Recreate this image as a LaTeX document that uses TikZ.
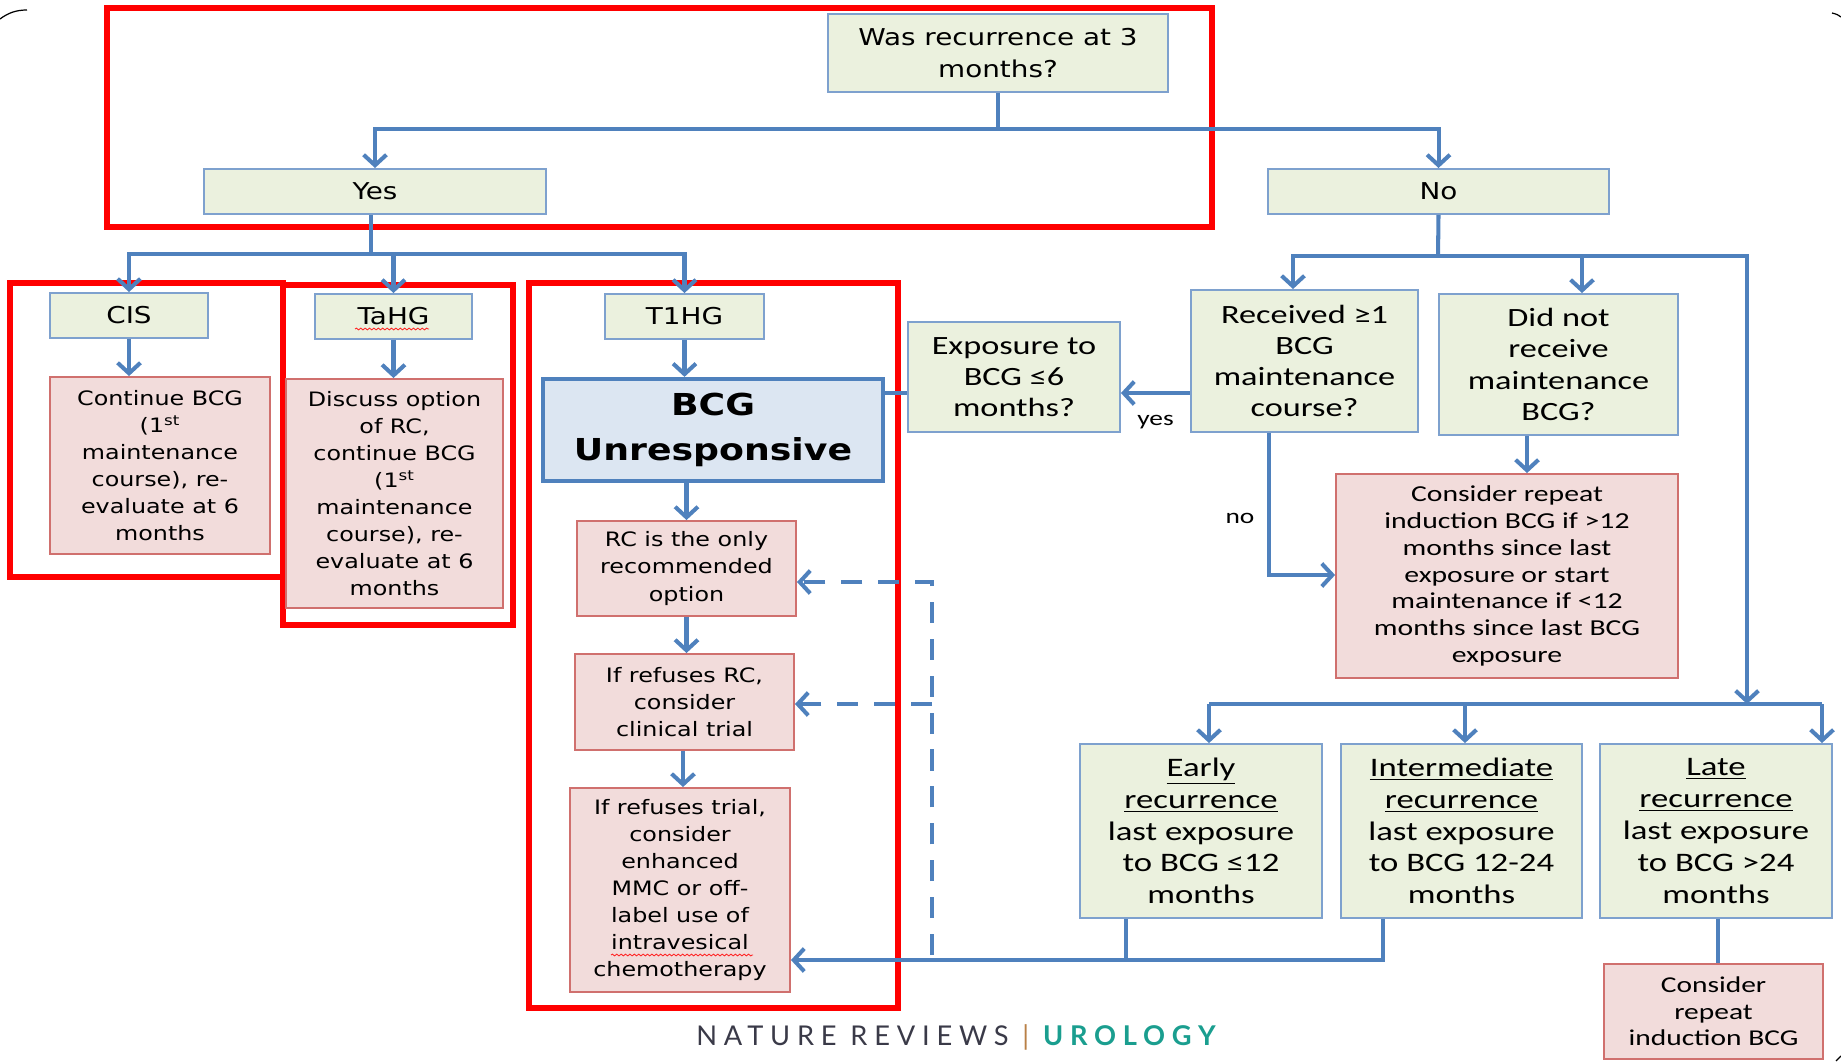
\documentclass[tikz,border=0pt]{standalone}
\usepackage{fontspec}
\newfontfamily\vfont[FakeStretch=1.2]{DejaVu Sans}
\newfontfamily\cfont[FakeStretch=1.3]{Carlito}
\newfontfamily\nrfont[LetterSpace=25]{Lato}
\usetikzlibrary{arrows.meta, decorations.pathmorphing}
\definecolor{lineblue}{HTML}{4F81BD}
\definecolor{greenfill}{HTML}{EBF1DE}
\definecolor{greenedge}{HTML}{7EA1CE}
\definecolor{pinkfill}{HTML}{F2DCDB}
\definecolor{pinkedge}{HTML}{D0706E}
\definecolor{bluefill}{HTML}{DCE6F2}
\definecolor{urologyteal}{HTML}{1A9E8F}
\definecolor{inkgray}{HTML}{3A3A48}

\begin{document}
\begin{tikzpicture}[x=0.02cm, y=-0.02cm,
  gbox/.style={draw=greenedge, fill=greenfill, line width=1.1pt, align=center, inner sep=0pt},
  pbox/.style={draw=pinkedge, fill=pinkfill, line width=1.1pt, align=center, inner sep=0pt},
  frame/.style={draw=red, line width=3.6pt},
  link/.style={draw=lineblue, line width=2.3pt},
  arr/.style={link, -{Straight Barb[length=6pt, width=13pt]}},
  darr/.style={arr, dash pattern=on 12pt off 9pt},
  vhead/.style={font={\vfont\fontsize{13.2}{18.7}\selectfont}},
  vtxt/.style={font={\vfont\fontsize{11.3}{15.4}\selectfont}},
  ctxt/.style={font={\cfont\fontsize{15}{17.8}\selectfont}},
  spell/.style={draw=red!85, line width=0.5pt, decorate, decoration={snake, amplitude=0.5pt, segment length=2.5pt}}]
\useasboundingbox (0,0) rectangle (1841,1061);
% slide corners
\draw[black, line width=0.7pt] (0,19) .. controls (8,13) and (16,10) .. (27,10);
\draw[black, line width=0.7pt] (1832,13) .. controls (1836,14) and (1839,15) .. (1841,17);
\draw[black, line width=0.7pt] (1836,1061) .. controls (1838,1059) and (1840,1057) .. (1841,1056);

% red frames
\draw[frame] (107,8) rectangle (1212,227);
\draw[frame] (10,283) rectangle (283,577);
\draw[frame] (283,285) rectangle (513,625);
\draw[frame] (529,283) rectangle (898,1008);

% left branch
\node[gbox, vhead, minimum width=6.8cm, minimum height=1.56cm] (q3) at (998,53) {Was recurrence at 3\\months?};
\node[gbox, vhead, minimum width=6.84cm, minimum height=0.9cm] (yes) at (375,191.5) {Yes};
\node[gbox, vhead, minimum width=6.82cm, minimum height=0.9cm] (no) at (1438.5,191.5) {No};
\node[gbox, vhead, minimum width=3.16cm, minimum height=0.9cm] (cis) at (129,315.5) {CIS};
\node[gbox, vhead, minimum width=3.14cm, minimum height=0.9cm] (tahg) at (393.5,316.5) {TaHG};
\node[gbox, vhead, minimum width=3.18cm, minimum height=0.9cm] (t1hg) at (684.5,316.5) {T1HG};
\node[pbox, vtxt, minimum width=4.4cm, minimum height=3.54cm] (cont) at (160,465.5)
  {Continue BCG\\(1\textsuperscript{st}\\maintenance\\course), re-\\evaluate at 6\\months};
\node[pbox, vtxt, minimum width=4.34cm, minimum height=4.58cm] (disc) at (394.5,493.5)
  {Discuss option\\of RC,\\continue BCG\\(1\textsuperscript{st}\\maintenance\\course), re-\\evaluate at 6\\months};
\node[draw=lineblue, fill=bluefill, line width=2.4pt, align=center, minimum width=6.8cm, minimum height=2.04cm,
  font={\vfont\bfseries\fontsize{17.2}{25.5}\selectfont}] (bcg) at (713,430) {BCG\\Unresponsive};
\node[pbox, vtxt, minimum width=4.38cm, minimum height=1.9cm] (rc) at (686.5,568.5) {RC is the only\\recommended\\option};
\node[pbox, vtxt, minimum width=4.38cm, minimum height=1.92cm] (refrc) at (684.5,702) {If refuses RC,\\consider\\clinical trial};
\node[pbox, vtxt, minimum width=4.4cm, minimum height=4.08cm] (reftr) at (680,890)
  {If refuses trial,\\consider\\enhanced\\MMC or off-\\label use of\\intravesical\\chemotherapy};

% right branch
\node[gbox, ctxt, minimum width=4.24cm, minimum height=2.2cm] (exp) at (1014,377) {Exposure to\\BCG ≤6\\months?};
\node[gbox, ctxt, minimum width=4.54cm, minimum height=2.84cm] (rec) at (1304.5,361) {Received ≥1\\BCG\\maintenance\\course?};
\node[gbox, ctxt, minimum width=4.78cm, minimum height=2.82cm] (dnr) at (1558.5,364.5) {Did not\\receive\\maintenance\\BCG?};
\node[pbox, font={\cfont\fontsize{13}{15.3}\selectfont}, minimum width=6.84cm, minimum height=4.08cm] (crib) at (1507,576)
  {Consider repeat\\induction BCG if >12\\months since last\\exposure or start\\maintenance if <12\\months since last BCG\\exposure};
\node[gbox, font={\cfont\fontsize{15.2}{18.1}\selectfont}, minimum width=4.84cm, minimum height=3.48cm] (early) at (1201,831)
  {\underline{Early}\\\underline{recurrence}\\last exposure\\to BCG ≤12\\months};
\node[gbox, font={\cfont\fontsize{15.2}{18.1}\selectfont}, minimum width=4.82cm, minimum height=3.48cm] (inter) at (1461.5,831)
  {\underline{Intermediate}\\\underline{recurrence}\\last exposure\\to BCG 12-24\\months};
\node[gbox, font={\cfont\fontsize{15.2}{18.1}\selectfont}, minimum width=4.64cm, minimum height=3.48cm] (late) at (1716,831)
  {\underline{Late}\\\underline{recurrence}\\last exposure\\to BCG >24\\months};
\node[pbox, font={\cfont\fontsize{12.9}{15.1}\selectfont}, minimum width=4.38cm, minimum height=1.9cm] (crs) at (1713.5,1011.5)
  {Consider\\repeat\\induction BCG};

% spell-check marks
\draw[spell] (355,329) -- (429,329);
\draw[spell] (611,955) -- (753,955);

% junctions
\coordinate (j1) at (998,129);
\coordinate (j2) at (371,254);
\coordinate (j3) at (1438,256);
\coordinate (recin) at (1293,256);
\coordinate (dnrin) at (1582,256);
\coordinate (lateln) at (1747,256);
\coordinate (rl) at (1209,704);
\coordinate (rm) at (1465,704);
\coordinate (rr) at (1822,704);
\coordinate (rj) at (1747,704);
\coordinate (ey) at (0,393);
\coordinate (nd) at (1269,575);
\coordinate (dc) at (1527,0);
\coordinate (lc) at (1718,0);
\coordinate (eb) at (1126,960);
\coordinate (ib) at (1383,960);
\coordinate (dbot) at (932,955);
\coordinate (dtop) at (932,582);
\coordinate (dmid) at (932,704);

% connectors
\draw[link] (q3.south) -- (j1);
\draw[arr] (j1) -| (yes.north);
\draw[arr] (j1) -| (no.north);
\draw[link] (yes.south -| j2) -- (j2);
\draw[arr] (j2) -| (cis.north);
\draw[arr] (j2) -| (tahg.north);
\draw[arr] (j2) -| (t1hg.north);
\draw[arr] (cis.south) -- (cis.south |- cont.north);
\draw[arr] (tahg.south) -- (tahg.south |- disc.north);
\draw[arr] (t1hg.south) -- (t1hg.south |- bcg.north);
\draw[arr] (bcg.south -| rc.north) -- (rc.north);
\draw[arr] (rc.south) -- (rc.south |- refrc.north);
\draw[arr] (refrc.south -| 683,0) -- (reftr.north -| 683,0);

\draw[link] (no.south) -- (j3);
\draw[arr] (j3) -- (recin) -- (recin |- rec.north);
\draw[arr] (j3) -- (dnrin) -- (dnrin |- dnr.north);
\draw[arr] (dnrin) -- (lateln) -- (rj);
\draw[arr] (rec.west |- ey) -- (exp.east |- ey) node[pos=0.5, below=8pt, font={\cfont\fontsize{12}{14}\selectfont}] {yes};
\draw[link] (exp.west |- ey) -- (bcg.east |- ey);
\draw[arr] (rec.south -| nd) -- (nd) -- (nd -| crib.west);
\node[font={\cfont\fontsize{12}{14}\selectfont}] (nolabel) at (1240,518) {no};
\draw[arr] (dnr.south -| dc) -- (crib.north -| dc);

\draw[link] (rl) -- (rr);
\draw[arr] (rl) -- (rl |- early.north);
\draw[arr] (rm) -- (rm |- inter.north);
\draw[arr] (rr) -- (rr |- late.north);
\draw[link] (early.south -| eb) -- (eb);
\draw[arr] (inter.south -| ib) -- (ib) -- (ib -| reftr.east);
\draw[link] (late.south -| lc) -- (crs.north -| lc);

\draw[darr] (dbot) -- (dtop) -- (dtop -| rc.east);
\draw[darr] (dmid) -- (dmid -| refrc.east);

% journal line
\node[font={\nrfont\fontsize{15.5}{17}\selectfont}, text=inkgray] (brand) at (956,1037)
  {NATURE REVIEWS {\color{orange!45!gray}|} {\bfseries\color{urologyteal}UROLOGY}};
\end{tikzpicture}
\end{document}
